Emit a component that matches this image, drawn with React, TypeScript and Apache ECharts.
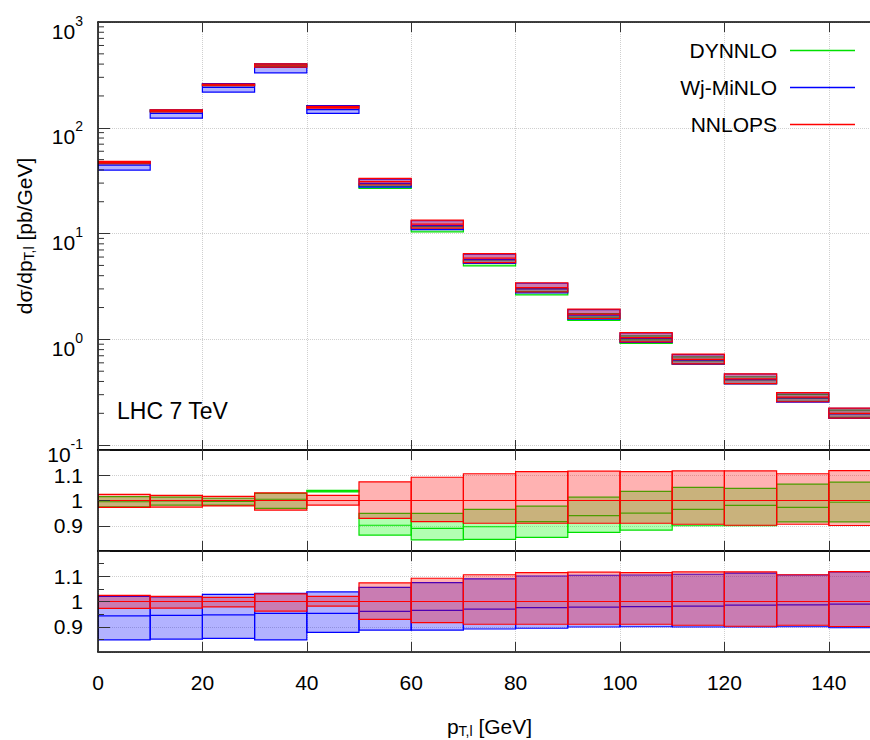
import React, { useEffect, useRef } from 'react';
import * as echarts from 'echarts';

const FONT = '"Liberation Sans", Arial, Helvetica, sans-serif';

// bin edges of p_T,l [GeV]
const BIN_EDGES = [0, 10, 20, 30, 40, 50, 60, 70, 80, 90, 100, 110, 120, 130, 140, 150];

// NNLOPS central value per bin [pb/GeV]
const NNLOPS_CENTRAL = [47, 145, 255, 390, 156, 31, 12.3, 5.85, 3.08, 1.73, 1.04, 0.648, 0.423, 0.284, 0.2];

// ratios to NNLOPS central value
const NNLOPS_RATIO_LO = [0.973, 0.974, 0.979, 0.962, 0.982, 0.929, 0.916, 0.910, 0.910, 0.910, 0.910, 0.906, 0.902, 0.906, 0.901];
const NNLOPS_RATIO_HI = [1.024, 1.020, 1.016, 1.030, 1.020, 1.074, 1.092, 1.106, 1.114, 1.116, 1.114, 1.117, 1.117, 1.106, 1.118];
const NNLOPS_RATIO_MID = [1, 1, 1, 1, 1, 1, 1, 1, 1, 1, 1, 1, 1, 1, 1];

const DYNNLO_RATIO_LO = [0.975, 0.982, 0.982, 0.969, 1.034, 0.863, 0.844, 0.846, 0.854, 0.874, 0.883, 0.900, 0.900, 0.915, 0.915];
const DYNNLO_RATIO_HI = [1.015, 1.013, 1.009, 1.028, 1.040, 0.949, 0.949, 0.965, 0.978, 1.013, 1.036, 1.052, 1.048, 1.065, 1.073];
const DYNNLO_RATIO_MID = [0.995, 0.998, 0.996, 1.005, 1.037, 0.902, 0.890, 0.896, 0.916, 0.940, 0.950, 0.965, 0.981, 0.973, 0.993];

const WJ_RATIO_LO = [0.848, 0.851, 0.854, 0.848, 0.878, 0.887, 0.887, 0.891, 0.894, 0.899, 0.900, 0.899, 0.899, 0.900, 0.896];
const WJ_RATIO_HI = [1.020, 1.018, 1.028, 1.032, 1.038, 1.056, 1.075, 1.090, 1.101, 1.104, 1.105, 1.108, 1.112, 1.105, 1.117];
const WJ_RATIO_MID = [0.943, 0.945, 0.947, 0.953, 0.953, 0.961, 0.965, 0.970, 0.976, 0.978, 0.980, 0.982, 0.986, 0.987, 0.990];

const SERIES_NAMES = ['DYNNLO', 'Wj-MiNLO', 'NNLOPS'];

// log axis minor ticks
const LOG_MINOR_MANTISSAS = [2, 3, 4, 5, 6, 7, 8, 9];
const LOG_MINOR_DECADES = [-1, 0, 1, 2];

const GREEN = '#00e000';
const BLUE = '#0000ff';
const RED = '#ff0000';
const GREEN_FILL = 'rgba(0,255,0,0.3)';
const BLUE_FILL = 'rgba(0,0,255,0.3)';
const RED_FILL = 'rgba(255,0,0,0.3)';

function bandRows(lo: number[], hi: number[], mid: number[], scale?: number[]) {
  return lo.map((_, i) => {
    const s = scale ? scale[i] : 1;
    return [BIN_EDGES[i], BIN_EDGES[i + 1], lo[i] * s, hi[i] * s, mid[i] * s];
  });
}

function makeRender(stroke: string, fill: string) {
  return (params: any, api: any) => {
    const x0 = api.value(0);
    const x1 = api.value(1);
    const lo = api.value(2);
    const hi = api.value(3);
    const mid = api.value(4);
    const a = api.coord([x0, hi]);
    const b = api.coord([x1, lo]);
    const m = api.coord([x0, mid]);
    return {
      type: 'group',
      children: [
        {
          type: 'rect',
          shape: { x: a[0], y: a[1], width: b[0] - a[0], height: b[1] - a[1] },
          style: { fill, stroke, lineWidth: 1.2 },
        },
        {
          type: 'line',
          shape: { x1: a[0], y1: m[1], x2: b[0], y2: m[1] },
          style: { stroke, lineWidth: 1.2 },
        },
      ],
    };
  };
}

function bandSeries(name: string, grid: number, rows: number[][], stroke: string, fill: string) {
  return {
    type: 'custom',
    name,
    xAxisIndex: grid,
    yAxisIndex: grid,
    clip: true,
    silent: true,
    itemStyle: { color: stroke },
    encode: { x: [0, 1], y: [2, 3, 4] },
    data: rows,
    renderItem: makeRender(stroke, fill),
    z: 2,
  };
}

const GRIDS = [
  { left: 98, top: 22, width: 783, height: 428 },
  { left: 98, top: 450, width: 783, height: 101 },
  { left: 98, top: 551, width: 783, height: 101 },
];

export default function App() {
  const ref = useRef<HTMLDivElement>(null);

  useEffect(() => {
    if (!ref.current) return;
    const chart = echarts.init(ref.current, null, { renderer: 'svg' });

    const axisLine = { show: true, onZero: false, lineStyle: { color: '#000', width: 1.5 } };
    const dotted = { show: true, lineStyle: { color: '#cfcfcf', type: 'dotted', width: 1 } };

    const xAxes: any[] = [];
    // main bottom axes (index 0..2)
    for (let g = 0; g < 3; g++) {
      xAxes.push({
        type: 'value', gridIndex: g, min: 0, max: 150, interval: 20, position: 'bottom', z: 10,
        axisLine,
        axisTick: { show: true, inside: true, length: 10, lineStyle: { color: '#333' } },
        axisLabel: { show: g === 2, fontSize: 21, color: '#000', fontFamily: FONT, margin: 20, showMaxLabel: false },
        splitLine: { show: false },
        name: g === 2 ? 'p{sub|T,l} [GeV]' : '',
        nameLocation: 'middle',
        nameGap: 62,
        nameTextStyle: {
          fontSize: 21, color: '#000', fontFamily: FONT, lineHeight: 24,
          rich: {
            sub: { fontSize: 14, lineHeight: 14, verticalAlign: 'bottom', fontFamily: FONT, color: '#000' },
          },
        },
      });
    }
    // mirrored top axes (3..5)
    for (let g = 0; g < 3; g++) {
      xAxes.push({
        type: 'value', gridIndex: g, min: 0, max: 150, interval: 20, position: 'top', z: 10,
        axisLine,
        axisTick: { show: true, inside: true, length: 10, lineStyle: { color: '#333' } },
        axisLabel: { show: false },
        splitLine: { show: false },
      });
    }
    // grid line axes (6..8)
    for (let g = 0; g < 3; g++) {
      xAxes.push({
        type: 'value', gridIndex: g, min: 0, max: 150, interval: 20, position: 'bottom', z: 0,
        axisLine: { show: false }, axisTick: { show: false }, axisLabel: { show: false },
        splitLine: dotted,
      });
    }

    const ratioLabel = (v: number) => (Math.abs(v - 1) < 1e-9 ? '1' : v.toFixed(1));

    const yAxes: any[] = [
      {
        type: 'log', logBase: 10, gridIndex: 0, min: 0.09, max: 1000, z: 10, position: 'left',
        axisLine,
        axisTick: { show: true, inside: true, length: 12, lineStyle: { color: '#333' } },
        splitLine: { show: false },
        axisLabel: {
          margin: 15,
          padding: [11, 0, 0, 0],
          formatter: (v: number) => {
            const n = Math.round(Math.log10(v));
            if (Math.abs(v / Math.pow(10, n) - 1) > 1e-6) return '';
            return `{b|10}{s|${n}}`;
          },
          rich: {
            b: { fontSize: 21, lineHeight: 28, verticalAlign: 'bottom', fontFamily: FONT, color: '#000' },
            s: { fontSize: 14, lineHeight: 14, verticalAlign: 'top', fontFamily: FONT, color: '#000' },
          },
        },
        name: 'dσ/dp{sub|T,l} [pb/GeV]',
        nameLocation: 'middle',
        nameRotate: 90,
        nameGap: 56,
        nameTextStyle: {
          fontSize: 21, color: '#000', fontFamily: FONT, lineHeight: 24,
          rich: {
            sub: { fontSize: 14, lineHeight: 14, verticalAlign: 'bottom', fontFamily: FONT, color: '#000' },
          },
        },
      },
    ];
    for (let g = 1; g < 3; g++) {
      yAxes.push({
        type: 'value', gridIndex: g, min: 0.8, max: 1.2, interval: 0.1, z: 10, position: 'left',
        axisLine,
        axisTick: { show: true, inside: true, length: 12, lineStyle: { color: '#333' } },
        minorTick: { show: g === 2, splitNumber: 2, length: 6, lineStyle: { color: '#333' } },
        splitLine: { show: false },
        axisLabel: {
          fontSize: 21, color: '#000', fontFamily: FONT, margin: 15,
          showMinLabel: false, showMaxLabel: false, formatter: ratioLabel,
        },
      });
    }
    // grid-line y axes (3..5)
    yAxes.push({
      type: 'log', logBase: 10, gridIndex: 0, min: 0.09, max: 1000, z: 0, position: 'right',
      axisLine: { show: false }, axisTick: { show: false }, axisLabel: { show: false }, splitLine: dotted,
    });
    for (let g = 1; g < 3; g++) {
      yAxes.push({
        type: 'value', gridIndex: g, min: 0.8, max: 1.2, interval: 0.1, z: 0, position: 'right',
        axisLine: { show: false }, axisTick: { show: false }, axisLabel: { show: false }, splitLine: dotted,
      });
    }

    const minorRows: number[][] = [];
    LOG_MINOR_DECADES.forEach((d) => LOG_MINOR_MANTISSAS.forEach((m) => minorRows.push([0, m * Math.pow(10, d)])));

    const series: any[] = [
      // top panel
      bandSeries(SERIES_NAMES[0], 0, bandRows(DYNNLO_RATIO_LO, DYNNLO_RATIO_HI, DYNNLO_RATIO_MID, NNLOPS_CENTRAL), GREEN, GREEN_FILL),
      bandSeries(SERIES_NAMES[1], 0, bandRows(WJ_RATIO_LO, WJ_RATIO_HI, WJ_RATIO_MID, NNLOPS_CENTRAL), BLUE, BLUE_FILL),
      bandSeries(SERIES_NAMES[2], 0, bandRows(NNLOPS_RATIO_LO, NNLOPS_RATIO_HI, NNLOPS_RATIO_MID, NNLOPS_CENTRAL), RED, RED_FILL),
      // middle ratio panel: DYNNLO / NNLOPS
      bandSeries(SERIES_NAMES[0], 1, bandRows(DYNNLO_RATIO_LO, DYNNLO_RATIO_HI, DYNNLO_RATIO_MID), GREEN, GREEN_FILL),
      bandSeries(SERIES_NAMES[2], 1, bandRows(NNLOPS_RATIO_LO, NNLOPS_RATIO_HI, NNLOPS_RATIO_MID), RED, RED_FILL),
      // bottom ratio panel: Wj-MiNLO / NNLOPS
      bandSeries(SERIES_NAMES[1], 2, bandRows(WJ_RATIO_LO, WJ_RATIO_HI, WJ_RATIO_MID), BLUE, BLUE_FILL),
      bandSeries(SERIES_NAMES[2], 2, bandRows(NNLOPS_RATIO_LO, NNLOPS_RATIO_HI, NNLOPS_RATIO_MID), RED, RED_FILL),
      // minor ticks of the log axis
      {
        type: 'custom',
        name: 'minor',
        xAxisIndex: 0,
        yAxisIndex: 0,
        silent: true,
        z: 11,
        encode: { x: 0, y: 1 },
        data: minorRows,
        renderItem: (params: any, api: any) => {
          const p = api.coord([api.value(0), api.value(1)]);
          return {
            type: 'line',
            shape: { x1: p[0], y1: p[1], x2: p[0] + 6, y2: p[1] },
            style: { stroke: '#333', lineWidth: 1 },
          };
        },
      },
    ];

    chart.setOption({
      animation: false,
      backgroundColor: '#fff',
      grid: GRIDS.map((g) => ({ ...g, containLabel: false, outerBoundsMode: 'none' })),
      xAxis: xAxes,
      yAxis: yAxes,
      legend: {
        data: SERIES_NAMES,
        orient: 'vertical',
        right: 15,
        top: 40,
        align: 'right',
        padding: 0,
        icon: 'rect',
        itemWidth: 65,
        itemHeight: 1.5,
        itemGap: 16,
        selectedMode: false,
        textStyle: { fontSize: 21, color: '#000', fontFamily: FONT, padding: [0, 8, 0, 0] },
      },
      graphic: [
        {
          type: 'text',
          left: 117,
          top: 399,
          style: { text: 'LHC 7 TeV', fontSize: 23, fontFamily: FONT, fill: '#000' },
          z: 20,
        },
      ],
      series,
    });

    return () => chart.dispose();
  }, []);

  return (
    <div
      ref={ref}
      style={{ position: 'absolute', left: 0, top: 0, width: 870, height: 740, background: '#fff' }}
    />
  );
}
